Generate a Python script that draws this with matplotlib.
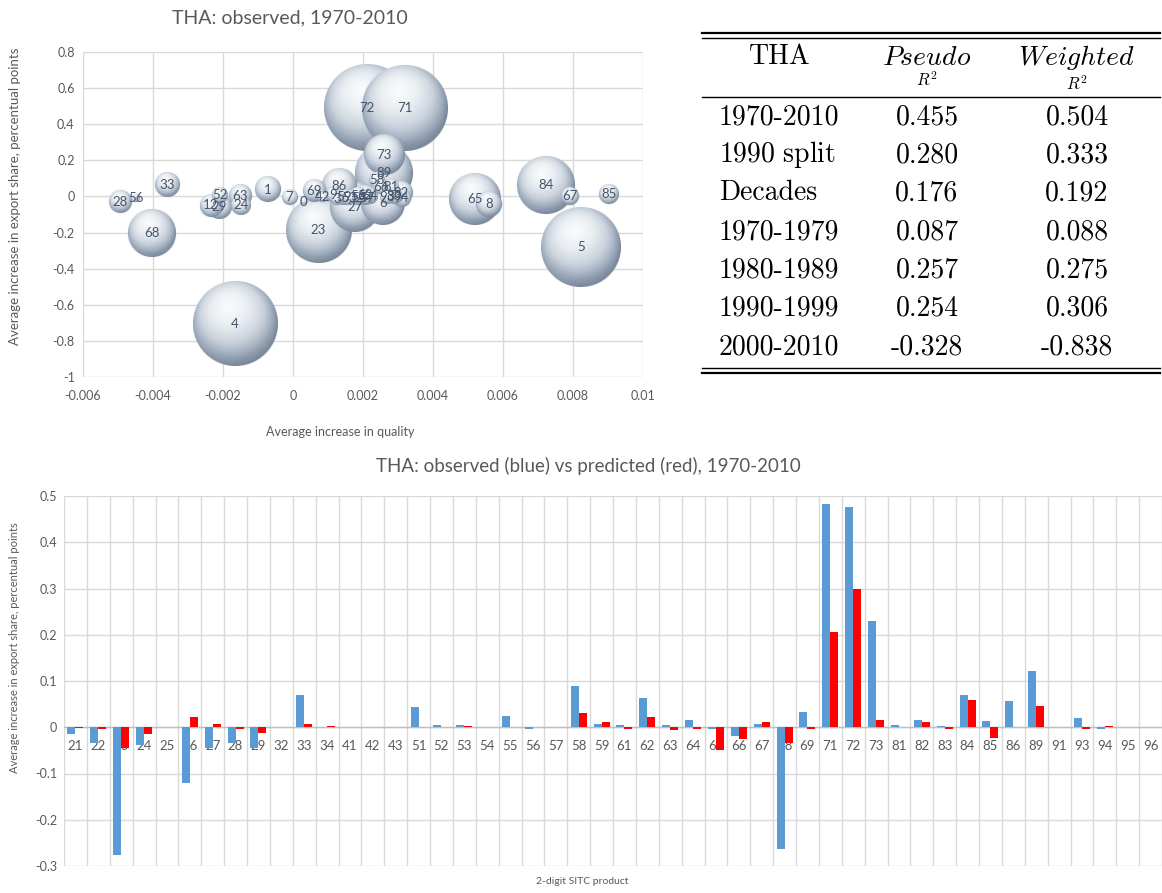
import numpy as np
import matplotlib.pyplot as plt
from matplotlib.colors import LinearSegmentedColormap

plt.rcParams['font.family'] = ['Lato', 'DejaVu Sans']
plt.rcParams['mathtext.fontset'] = 'cm'

# bubble chart data: label, avg increase in quality, avg increase in export share, bubble weight
bub_labels = ['72', '71', '4', '5', '23', '89', '84', '27', '65', '68', '6', '73', '86',
              '8', '1', '33', '29', '28', '12', '63', '69', '82', '24', '62', '85',
              '55', '94', '67', '52', '7', '59', '64', '58', '81', '83', '9', '53',
              '66', '93', '3', '57', '42', '54', '56', '0']
bub_x = [0.00212, 0.00321, -0.00167, 0.00824, 0.00073, 0.00261, 0.00724, 0.00176, 0.00519,
         -0.00402, 0.00257, 0.00260, 0.00131, 0.00560, -0.00073, -0.00360, -0.00212, -0.00493,
         -0.00235, -0.00152, 0.00061, 0.00310, -0.00148, 0.00205, 0.00903, 0.00185, 0.00310,
         0.00790, -0.00210, -0.00010, 0.00145, 0.00220, 0.00240, 0.00280, 0.00290, 0.00115,
         0.00160, 0.00250, 0.00270, 0.00125, 0.00210, 0.00085, 0.00190, -0.00448, 0.00030]
bub_y = [0.49, 0.49, -0.707, -0.281, -0.185, 0.13, 0.061, -0.059, -0.013,
         -0.204, -0.037, 0.231, 0.056, -0.041, 0.037, 0.065, -0.056, -0.031,
         -0.05, 0.0, 0.031, 0.02, -0.046, 0.01, 0.013, 0.005, -0.01,
         0.0, 0.009, -0.004, -0.005, 0.0, 0.09, 0.05, 0.0, 0.01,
         -0.01, 0.05, -0.005, -0.015, -0.01, -0.004, -0.01, -0.006, -0.028]
bub_w = [79, 77, 74, 67, 46, 36, 36, 27, 29, 25, 21, 18, 13,
         7.8, 7.3, 6.8, 6.8, 5.8, 5.8, 5.8, 5.8, 5.8, 4.8, 4.8, 4.8,
         4.0, 4.0, 4.0, 3.2, 3.2, 3.2, 3.2, 3.2, 3.2, 3.2, 2.6, 2.6,
         2.6, 2.6, 2.0, 2.0, 1.4, 1.4, 1.0, 0.6]

# bar chart data
sitc = ['21', '22', '23', '24', '25', '26', '27', '28', '29', '32', '33', '34', '41', '42',
        '43', '51', '52', '53', '54', '55', '56', '57', '58', '59', '61', '62', '63', '64',
        '65', '66', '67', '68', '69', '71', '72', '73', '81', '82', '83', '84', '85', '86',
        '89', '91', '93', '94', '95', '96']
observed = [-0.015, -0.033, -0.277, -0.038, 0.001, -0.12, -0.045, -0.035, -0.045, 0.001,
            0.07, 0.0, 0.0, 0.001, 0.001, 0.044, 0.005, 0.005, 0.001, 0.024, -0.003, 0.001,
            0.089, 0.008, 0.005, 0.063, 0.005, 0.015, -0.003, -0.018, 0.008, -0.263, 0.033,
            0.482, 0.476, 0.23, 0.004, 0.016, 0.002, 0.069, 0.013, 0.057, 0.121, 0.0, 0.02,
            -0.003, 0.0, 0.0]
predicted = [-0.001, -0.004, -0.045, -0.015, 0.0, 0.022, 0.006, -0.003, -0.013, 0.0,
             0.006, 0.002, 0.0, 0.0, 0.0, 0.001, 0.0, 0.003, 0.001, 0.0, 0.0, 0.0,
             0.031, 0.011, -0.004, 0.022, -0.006, -0.003, -0.05, -0.026, 0.011, -0.033, -0.004,
             0.205, 0.3, 0.016, 0.0, 0.011, -0.003, 0.058, -0.023, 0.001, 0.045, 0.0, -0.004,
             0.003, 0.0, 0.0]

# table
tab_rows = ['1970-2010', '1990 split', 'Decades', '1970-1979', '1980-1989', '1990-1999', '2000-2010']
tab_pseudo = ['0.455', '0.280', '0.176', '0.087', '0.257', '0.254', '-0.328']
tab_weighted = ['0.504', '0.333', '0.192', '0.088', '0.275', '0.306', '-0.838']

W, H = 1162, 893
fig = plt.figure(figsize=(W / 100, H / 100), dpi=100)
gray = '#595959'
grid = '#d9d9d9'


def fmt(v):
    v = round(v, 4) + 0.0
    return '{:g}'.format(v)


# ---------------- bubble chart
ax1 = fig.add_axes([83 / W, 1 - 377 / H, 560 / W, 325 / H])
xlim, ylim = (-0.006, 0.01), (-1, 0.8)
xt = np.linspace(-0.006, 0.01, 9)
yt = np.linspace(-1, 0.8, 10)
ax1.set_xticks(xt)
ax1.set_xticklabels([fmt(v) for v in xt])
ax1.set_yticks(yt)
ax1.set_yticklabels([fmt(v) for v in yt])
ax1.grid(color=grid, lw=1, zorder=0)
ax1.set_axisbelow(True)
for s in ax1.spines.values():
    s.set_visible(False)
ax1.tick_params(length=0, colors=gray, labelsize=9)
ax1.tick_params(axis='x', pad=9)
ax1.tick_params(axis='y', pad=6)

dxp = (xlim[1] - xlim[0]) / 560.0
dyp = (ylim[1] - ylim[0]) / 325.0
cmap = LinearSegmentedColormap.from_list('bub', ['#fafbfc', '#e9edf1', '#ccd4de', '#a2afbf', '#7b899c'])


def bubble_img(n):
    g = np.linspace(-1, 1, n)
    xx, yy = np.meshgrid(g, -g)
    rr = np.hypot(xx, yy)
    d = np.hypot(xx + 0.15, yy - 0.4)
    t = np.clip(d / 1.45, 0, 1) ** 1.2 + 0.25 * rr ** 6
    # faint reflected light along the lower rim
    t -= 0.18 * np.clip(-yy, 0, 1) * np.clip((rr - 0.8) / 0.2, 0, 1)
    rgba = cmap(np.clip(t, 0, 1))
    rgba[..., 3] = np.clip((1 - rr) * n / 2, 0, 1)
    return rgba


order = np.argsort(bub_w)[::-1]
for k, i in enumerate(order):
    r = 5 * np.sqrt(bub_w[i])
    n = int(2 * r) + 2
    ext = [bub_x[i] - r * dxp, bub_x[i] + r * dxp, bub_y[i] - r * dyp, bub_y[i] + r * dyp]
    ax1.imshow(bubble_img(n), extent=ext, origin='upper', aspect='auto',
               interpolation='bilinear', zorder=2 + k * 0.01)
for i in range(len(bub_labels)):
    ax1.text(bub_x[i], bub_y[i], bub_labels[i], ha='center', va='center',
             fontsize=9.5, color='#44546a', zorder=5)
ax1.set_xlim(*xlim)
ax1.set_ylim(*ylim)

fig.text(290 / W, 1 - 18 / H, 'THA: observed, 1970-2010', ha='center', va='center',
         fontsize=14, color=gray)
fig.text(340 / W, 1 - 432 / H, 'Average increase in quality', ha='center', va='center',
         fontsize=9, color=gray)
fig.text(15 / W, 1 - 196 / H, 'Average increase in export share, percentual points',
         ha='center', va='center', rotation=90, fontsize=9.5, color=gray)

# ---------------- table
def hline(y, lw):
    fig.add_artist(plt.Line2D([702 / W, 1160 / W], [1 - y / H, 1 - y / H], color='black', lw=lw))


hline(33, 1.6)
hline(37.5, 1.0)
hline(97, 1.0)
hline(368, 1.0)
hline(372.5, 1.6)

cm = dict(family='cmr10', fontsize=20, va='center')
fig.text(780 / W, 1 - 57 / H, 'THA', ha='center', **cm)
fig.text(927 / W, 1 - 57 / H, r'$Pseudo$', ha='center', va='center', fontsize=20)
fig.text(927 / W, 1 - 80 / H, r'$R^2$', ha='center', va='center', fontsize=12)
fig.text(1077 / W, 1 - 57 / H, r'$Weighted$', ha='center', va='center', fontsize=20)
fig.text(1077 / W, 1 - 84 / H, r'$R^2$', ha='center', va='center', fontsize=12)
row_y = [117, 155, 193, 232, 270, 308, 347]
for lab, p, w, y in zip(tab_rows, tab_pseudo, tab_weighted, row_y):
    if ' ' in lab:
        fig.text(719 / W, 1 - y / H, r'$\mathrm{' + lab.replace(' ', r'\ ') + '}$',
                 ha='left', va='center', fontsize=20)
    else:
        fig.text(719 / W, 1 - y / H, lab, ha='left', **cm)
    fig.text(927 / W, 1 - y / H, p, ha='center', **cm)
    fig.text(1077 / W, 1 - y / H, w, ha='center', **cm)

# ---------------- bar chart
ax2 = fig.add_axes([64 / W, 1 - 866 / H, (W - 64) / W, 370 / H])
x = np.arange(len(sitc))
ax2.bar(x - 0.175, observed, 0.35, color='#5b9bd5', zorder=2)
ax2.bar(x + 0.175, predicted, 0.35, color='#ff0000', zorder=2)
ax2.set_xlim(-0.5, len(sitc) - 0.5)
ax2.set_ylim(-0.3, 0.5)
ax2.set_xticks(np.arange(len(sitc) + 1) - 0.5)
ax2.set_xticklabels([])
yt2 = np.linspace(-0.3, 0.5, 9)
ax2.set_yticks(yt2)
ax2.set_yticklabels([fmt(v) for v in yt2])
ax2.grid(color=grid, lw=1, zorder=0)
ax2.set_axisbelow(True)
ax2.axhline(0, color='#bfbfbf', lw=1, zorder=1.5)
for s in ax2.spines.values():
    s.set_visible(False)
ax2.tick_params(length=0, colors=gray, labelsize=9)
ax2.tick_params(axis='y', pad=5)
for i, lab in enumerate(sitc):
    ax2.annotate(lab, (i, 0), xytext=(0, -13.5), textcoords='offset points', ha='center',
                 va='center', fontsize=9.5, color=gray, zorder=1, annotation_clip=False)

fig.text(588 / W, 1 - 466 / H, 'THA: observed (blue) vs predicted (red), 1970-2010',
         ha='center', va='center', fontsize=13.5, color=gray)
fig.text(582 / W, 1 - 882 / H, '2-digit SITC product', ha='center', va='center',
         fontsize=7.5, color=gray)
fig.text(15 / W, 1 - 648 / H, 'Average increase in export share, percentual points',
         ha='center', va='center', rotation=90, fontsize=8, color=gray)

fig.savefig('out.png', dpi=100)
